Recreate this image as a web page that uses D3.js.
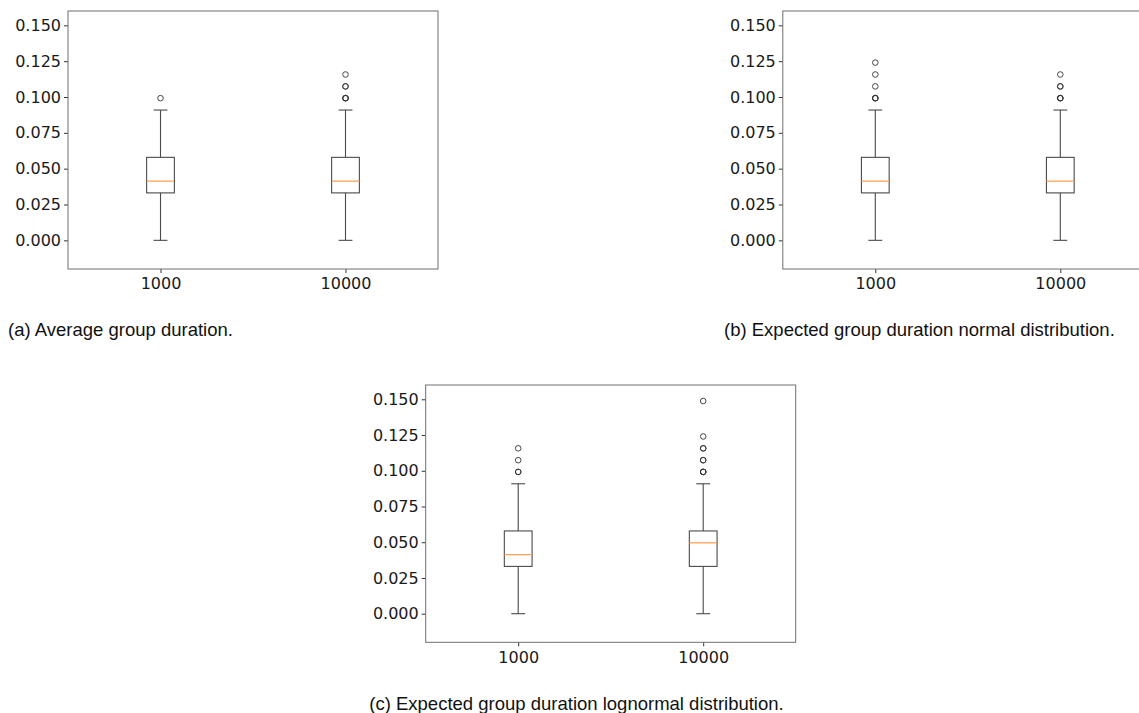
<!DOCTYPE html>
<html>
<head>
<meta charset="utf-8">
<script src="https://cdn.jsdelivr.net/npm/d3@7"></script>
<style>
  html, body { margin: 0; padding: 0; background: #fff; overflow: hidden; }
  svg { display: block; }
  .tick text { font-family: "DejaVu Sans", sans-serif; font-size: 16px; fill: #1a1a1a; }
  .caption { font-family: "Liberation Sans", Arial, sans-serif; font-size: 18.5px; fill: #111; }
</style>
</head>
<body>
<svg id="chart" width="1139" height="713"></svg>
<script>
// Sample sizes on the x axis
const categories = ["1000", "10000"];
const yTicks = [0.000, 0.025, 0.050, 0.075, 0.100, 0.125, 0.150];
const yLimits = [-0.02, 0.16];

// Box statistics per sample size: [lower whisker, Q1, median, Q3, upper whisker]
const avgStats      = [[0, 0.0331, 0.0413, 0.0579, 0.0909], [0, 0.0331, 0.0413, 0.0579, 0.0909]];
const normalStats   = [[0, 0.0331, 0.0413, 0.0579, 0.0909], [0, 0.0331, 0.0413, 0.0579, 0.0909]];
const lognormStats  = [[0, 0.0331, 0.0413, 0.0579, 0.0909], [0, 0.0331, 0.0496, 0.0579, 0.0909]];

// Fliers per sample size (repeated values overlap)
const avgFliers     = [[0.0992], [0.0992, 0.0992, 0.0992, 0.1074, 0.1074, 0.1157]];
const normalFliers  = [[0.0992, 0.0992, 0.0992, 0.1074, 0.1157, 0.1240], [0.0992, 0.0992, 0.0992, 0.1074, 0.1074, 0.1157]];
const lognormFliers = [[0.0992, 0.0992, 0.1074, 0.1157], [0.0992, 0.0992, 0.0992, 0.1074, 0.1074, 0.1157, 0.1157, 0.1240, 0.1488]];

const captions = [
  "(a) Average group duration.",
  "(b) Expected group duration normal distribution.",
  "(c) Expected group duration lognormal distribution."
];

const svg = d3.select("#chart");

const panels = [
  { left: 68,    top: 11,  width: 370, height: 258, stats: avgStats,     fliers: avgFliers,     caption: captions[0], cx: 8,     cy: 336, anchor: "start" },
  { left: 782.8, top: 11,  width: 370, height: 258, stats: normalStats,  fliers: normalFliers,  caption: captions[1], cx: 724,   cy: 336, anchor: "start" },
  { left: 425.7, top: 385, width: 370, height: 257.3, stats: lognormStats, fliers: lognormFliers, caption: captions[2], cx: 576.5, cy: 710, anchor: "middle" }
];

const boxColor = "#4a4a4a";

panels.forEach(p => {
  const g = svg.append("g").attr("transform", `translate(${p.left},${p.top})`);

  const x = d3.scaleLinear().domain([0.5, categories.length + 0.5]).range([0, p.width]);
  const y = d3.scaleLinear().domain(yLimits).range([p.height, 0]);
  const boxW = x(1.075) - x(1);   // half box width
  const capW = boxW / 2;          // half cap width

  // Y axis
  const yAxis = d3.axisLeft(y).tickValues(yTicks).tickFormat(d3.format(".3f")).tickSize(4).tickPadding(3).tickSizeOuter(0);
  const ya = g.append("g").call(yAxis);
  ya.select(".domain").remove();
  ya.selectAll(".tick line").attr("stroke", "#333");

  // X axis
  const xAxis = d3.axisBottom(x).tickValues(categories.map((c, i) => i + 1)).tickFormat((d, i) => categories[i]).tickSize(4).tickPadding(5).tickSizeOuter(0);
  const xa = g.append("g").attr("transform", `translate(0,${p.height})`).call(xAxis);
  xa.select(".domain").remove();
  xa.selectAll(".tick line").attr("stroke", "#333");

  // Boxes
  categories.forEach((c, i) => {
    const [lo, q1, med, q3, hi] = p.stats[i];
    const cxp = x(i + 1);
    const bg = g.append("g").attr("fill", "none").attr("stroke", boxColor).attr("stroke-width", 1.1);

    // whiskers
    bg.append("line").attr("x1", cxp).attr("x2", cxp).attr("y1", y(q1)).attr("y2", y(lo));
    bg.append("line").attr("x1", cxp).attr("x2", cxp).attr("y1", y(q3)).attr("y2", y(hi));
    // caps
    bg.append("line").attr("x1", cxp - capW).attr("x2", cxp + capW).attr("y1", y(lo)).attr("y2", y(lo));
    bg.append("line").attr("x1", cxp - capW).attr("x2", cxp + capW).attr("y1", y(hi)).attr("y2", y(hi));
    // box
    bg.append("rect").attr("x", cxp - boxW).attr("y", y(q3)).attr("width", 2 * boxW).attr("height", y(q1) - y(q3));
    // median
    g.append("line").attr("x1", cxp - boxW).attr("x2", cxp + boxW).attr("y1", y(med)).attr("y2", y(med))
      .attr("stroke", "#ff9a4a").attr("stroke-width", 1.2);
    // fliers
    g.selectAll(null).data(p.fliers[i]).join("circle")
      .attr("cx", cxp).attr("cy", d => y(d)).attr("r", 2.8)
      .attr("fill", "none").attr("stroke", "#333").attr("stroke-width", 0.9);
  });

  // Frame
  g.append("rect").attr("x", 0).attr("y", 0).attr("width", p.width).attr("height", p.height)
    .attr("fill", "none").attr("stroke", "#6e6e6e").attr("stroke-width", 1);

  svg.append("text").attr("class", "caption").attr("x", p.cx).attr("y", p.cy)
    .attr("text-anchor", p.anchor).text(p.caption);
});
</script>
</body>
</html>
